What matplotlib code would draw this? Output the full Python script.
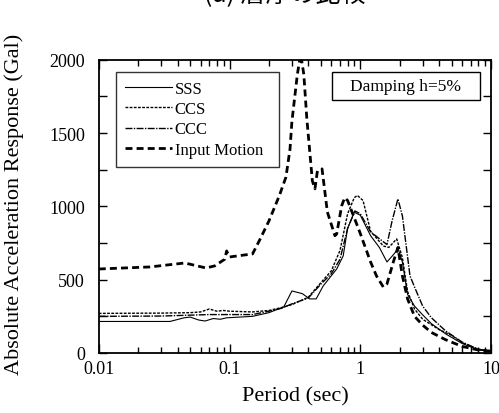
import matplotlib
matplotlib.use("Agg")
import matplotlib.pyplot as plt
from matplotlib.patches import Rectangle
from matplotlib.ticker import MultipleLocator

plt.rcParams['font.family'] = ['Liberation Serif', 'DejaVu Serif']

# periods (sec) and spectral values (Gal)
sss_period = [0.01, 0.035, 0.045, 0.05, 0.058, 0.065, 0.075, 0.085, 0.095, 0.12, 0.15, 0.2,
              0.26, 0.30, 0.36, 0.41, 0.46, 0.52, 0.66, 0.74, 0.8, 0.9, 1.0, 1.2, 1.4, 1.6,
              1.75, 1.95, 2.1, 2.3, 2.6, 3.0, 3.5, 4.5, 6, 8, 10]
sss_value = [215, 215, 240, 245, 225, 218, 235, 230, 240, 245, 250, 275,
             314, 423, 405, 369, 369, 457, 573, 662, 850, 960, 940, 800, 720, 621,
             660, 710, 620, 400, 320, 260, 200, 130, 65, 20, 12]

ccs_period = [0.01, 0.03, 0.05, 0.06, 0.07, 0.08, 0.09, 0.1, 0.15, 0.2, 0.25, 0.3, 0.4,
              0.5, 0.6, 0.7, 0.8, 0.9, 0.95, 1.05, 1.2, 1.5, 1.65, 1.9, 2.1, 2.3, 2.6,
              3.0, 4, 5, 6, 8, 10]
ccs_value = [270, 272, 275, 280, 300, 285, 290, 285, 280, 290, 310, 330, 380,
             480, 560, 700, 950, 1060, 1075, 1040, 830, 730, 720, 778, 650, 420, 300,
             230, 160, 120, 70, 25, 12]

ccc_period = [0.01, 0.03, 0.05, 0.07, 0.1, 0.15, 0.2, 0.25, 0.3, 0.4, 0.5, 0.6, 0.7,
              0.8, 0.91, 1.0, 1.2, 1.47, 1.6, 1.75, 1.94, 2.1, 2.4, 2.6, 3.0, 3.5,
              4.5, 6, 8, 10]
ccc_value = [250, 252, 258, 262, 262, 262, 285, 305, 335, 375, 470, 540, 640,
             850, 969, 950, 826, 765, 740, 900, 1051, 935, 526, 450, 320, 240,
             150, 75, 25, 15]

inp_period = [0.01, 0.0246, 0.0455, 0.066, 0.077, 0.092, 0.095, 0.1, 0.15, 0.17, 0.2,
              0.24, 0.27, 0.29, 0.30, 0.33, 0.35, 0.37, 0.39, 0.43, 0.45, 0.47, 0.51,
              0.56, 0.64, 0.66, 0.72, 0.76, 0.8, 0.99, 1.2, 1.33, 1.5, 1.6, 1.79, 1.94,
              2.1, 2.3, 2.6, 3.0, 3.5, 4.5, 6, 8, 10]
inp_value = [573, 587, 614, 580, 594, 640, 696, 655, 676, 771, 900,
             1072, 1200, 1390, 1580, 1900, 2040, 1900, 1600, 1174, 1120, 1242, 1256,
             962, 800, 812, 1003, 1060, 1040, 826, 620, 526, 450, 471, 621, 720,
             526, 369, 250, 190, 140, 90, 45, 20, 12]

fig = plt.figure(figsize=(4.99, 4.14), dpi=100)
ax = fig.add_axes([0.198, 0.145, 0.786, 0.708])

ax.plot(sss_period, sss_value, color='black', lw=0.8, label='SSS')
ax.plot(ccs_period, ccs_value, color='black', lw=1.0, dashes=(2, 1), label='CCS')
ax.plot(ccc_period, ccc_value, color='black', lw=1.0, dashes=(5, 1, 1, 1), label='CCC')
ax.plot(inp_period, inp_value, color='black', lw=2.0, dashes=(2.5, 1.5), label='Input Motion')

ax.set_xscale('log')
ax.set_xlim(0.01, 10)
ax.set_ylim(0, 2000)
ax.set_xticks([0.01, 0.1, 1, 10])
ax.set_xticklabels(['0.01', '0.1', '1', '10'])
ax.yaxis.set_major_locator(MultipleLocator(500))
ax.yaxis.set_minor_locator(MultipleLocator(250))

ax.tick_params(which='both', direction='in', top=True, right=True, width=1)
ax.tick_params(axis='y', which='both', length=6, labelsize=13, pad=10)
ax.tick_params(axis='x', which='major', length=6.5, labelsize=13, pad=5)
ax.tick_params(axis='x', which='minor', length=4.3)
for s in ax.spines.values():
    s.set_linewidth(1.3)

ax.set_xlabel('Period (sec)', fontsize=16)
ax.xaxis.set_label_coords(0.5, -0.112)
ax.set_ylabel('Absolute Acceleration Response (Gal)', fontsize=16)
ax.yaxis.set_label_coords(-0.19, 0.51)

leg = ax.legend(loc='upper left', bbox_to_anchor=(0.043, 0.652, 0.416, 0.307),
                mode='expand', fontsize=12, handlelength=2.8, handletextpad=0.2,
                labelspacing=0.25, borderpad=0.55, borderaxespad=0,
                frameon=True, fancybox=False)
leg.get_frame().set_edgecolor('black')
leg.get_frame().set_linewidth(1.0)

ax.add_patch(Rectangle((0.594, 0.863), 0.378, 0.096, transform=ax.transAxes,
                       fill=False, edgecolor='black', lw=1.0))
ax.text(0.783, 0.911, 'Damping h=5%', transform=ax.transAxes,
        ha='center', va='center', fontsize=12.5)

# title sits mostly above the top edge, as in the source figure
fig.text(0.571, 1 - 2 / 414, '(a) 層厚の比較', ha='center', va='baseline', fontsize=18,
         family=['Noto Sans CJK JP', 'DejaVu Sans'])

fig.savefig('out.png', dpi=100)
